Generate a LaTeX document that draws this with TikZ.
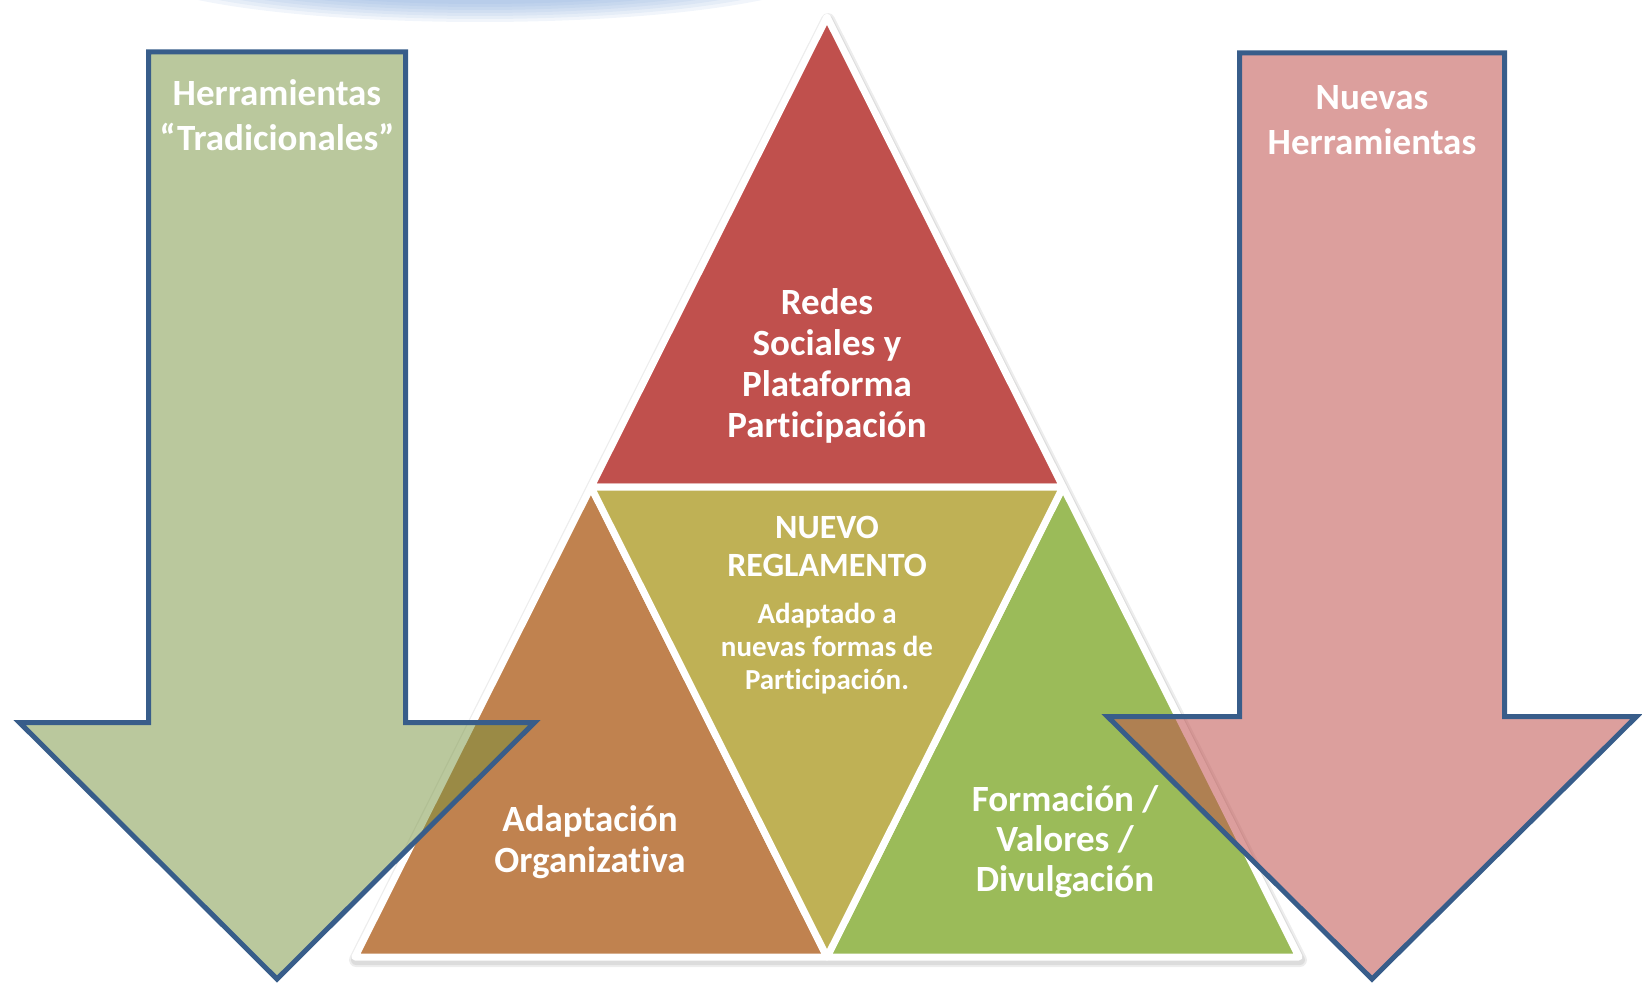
\documentclass[tikz,border=0pt]{standalone}
\usepackage{fontspec}
\setmainfont{Carlito}[Ligatures={NoCommon,NoContextual}]
\definecolor{trired}{HTML}{C0504D}
\definecolor{trikhaki}{HTML}{BFB155}
\definecolor{triorange}{HTML}{C0824F}
\definecolor{trigreen}{HTML}{9BBB59}
\definecolor{arrowgreen}{HTML}{76923C}
\definecolor{arrowblue}{HTML}{385D8A}
\definecolor{glowblue}{RGB}{120,160,215}
\tikzset{
  tri/.style={
    draw=white,
    line width=7pt,
    line join=round
  },
  tri-red/.style={tri, fill=trired},
  tri-khaki/.style={tri, fill=trikhaki},
  tri-orange/.style={tri, fill=triorange},
  tri-green/.style={tri, fill=trigreen},
  tri-shadow/.style={fill=black, draw=black, opacity=0.07, line join=round},
  bigarrow/.style={
    draw=arrowblue,
    line width=5pt,
    line join=miter
  },
  arrow-green/.style={bigarrow, fill=arrowgreen, fill opacity=0.5},
  arrow-pink/.style={bigarrow, fill=trired, fill opacity=0.55},
  big-text/.style={text=white, align=center, inner sep=0pt,
    font=\bfseries\fontsize{37}{41}\selectfont},
  arrow-text/.style={big-text, font=\bfseries\fontsize{37}{45}\selectfont},
  small-text/.style={big-text, font=\bfseries\fontsize{29}{33}\selectfont}
}
% down arrow: centre x, half shaft, half head, top, head y, tip y
\newcommand{\downarrowpath}[6]{
  (#1-#2,#4) -- (#1+#2,#4) -- (#1+#2,#5) -- (#1+#3,#5)
  -- (#1,#6) -- (#1-#3,#5) -- (#1-#2,#5) -- cycle
}

\begin{document}
\begin{tikzpicture}[x=1pt,y=-1pt]
  \useasboundingbox (0,0) rectangle (1642,987);

  % faint blue glow at the top edge
  \foreach \k in {0,...,6}{
    \fill[glowblue, opacity=0.10] (480,-32) ellipse ({350-14*\k} and {54-3*\k});
  }

  % corners of the triangle grid
  \coordinate (apex) at (827,17);
  \coordinate (ml) at (591,487);
  \coordinate (mr) at (1063,487);
  \coordinate (bl) at (355,957);
  \coordinate (bm) at (827,957);
  \coordinate (br) at (1299,957);

  \foreach \w in {10,14}{
    \path[tri-shadow, line width=\w pt]
      ([shift={(1,3)}]apex) -- ([shift={(1,3)}]bl) -- ([shift={(1,3)}]br) -- cycle;
  }

  \path[tri-red] (apex) -- (ml) -- (mr) -- cycle;
  \path[tri-orange] (ml) -- (bl) -- (bm) -- cycle;
  \path[tri-green] (mr) -- (bm) -- (br) -- cycle;
  \path[tri-khaki] (ml) -- (mr) -- (bm) -- cycle;

  \node[big-text] (redes) at (827,366)
    {Redes\\Sociales y\\Plataforma\\Participación};
  \node[big-text, font=\bfseries\fontsize{34}{38}\selectfont] (reglamento) at (827,546)
    {NUEVO\\REGLAMENTO};
  \node[small-text] (adaptado) at (827,649)
    {Adaptado a\\nuevas formas de\\Participación.};
  \node[big-text] (adaptacion) at (590,842)
    {Adaptación\\Organizativa};
  \node[big-text, font=\bfseries\fontsize{37}{40}\selectfont] (formacion) at (1065,842)
    {Formación /\\Valores /\\Divulgación};

  % the two arrows lie over the triangles
  \draw[arrow-green] \downarrowpath{277}{128.5}{257.5}{52}{722.5}{979};
  \draw[arrow-pink] \downarrowpath{1372}{132.5}{264.5}{53}{716.5}{979};

  \node[arrow-text] (tradicionales) at (277,115)
    {Herramientas\\“Tradicionales”};
  \node[arrow-text] (nuevas) at (1372,120)
    {Nuevas\\Herramientas};
\end{tikzpicture}
\end{document}
